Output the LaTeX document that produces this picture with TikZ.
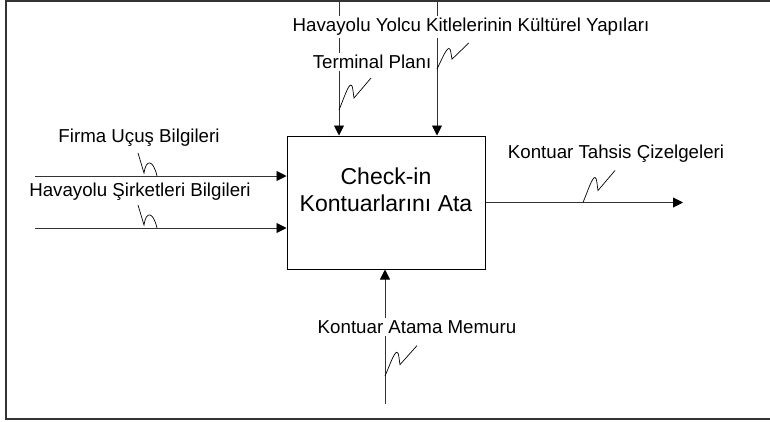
\documentclass[tikz,border=0pt]{standalone}
\usepackage{fontspec}
\setmainfont{Liberation Sans}
\usetikzlibrary{arrows.meta}
\begin{document}
\begin{tikzpicture}[x=1pt,y=-1pt,
  conn/.style={draw=black!80,line width=0.9pt},
  arr/.style={conn,-{Triangle[length=10pt,width=10pt,fill=black,color=black]}},
  lbl/.style={fill=white,inner sep=2pt,font=\fontsize{18.7}{21}\selectfont},
  sqline/.style={draw=black,line width=0.7pt},
  upsq/.pic={\draw[sqline] (0,0) .. controls (5,-12) and (9,-25) .. (12,-25) .. controls (14,-25) and (14,-17) .. (15,-12) -- (32,-32);},
  insq/.pic={\draw[sqline] (-19,-23) -- (-13,-3) .. controls (-11,-17) and (-4,-17) .. (0,0);}
  ]
\useasboundingbox (0,0) rectangle (770,421);
\draw[black!80,line width=1.5pt] (6,0.75) rectangle (775,419);

% activity box
\node[draw,line width=1pt,minimum width=198pt,minimum height=133pt,inner sep=0pt] (box) at (386,202.5) {};
\node[align=center,font=\fontsize{23}{27}\selectfont,inner sep=0pt] (boxtext) at (386,190) {Check-in\\Kontuarlarını Ata};

% end coordinates
\coordinate (in1) at (35,176);
\coordinate (in2) at (35,228);
\coordinate (out) at (683,202.5);
\coordinate (c1) at (339,2);
\coordinate (c2) at (437,2);
\coordinate (m) at (385,404);

% connectors
\draw[arr] (in1) -- (box.west |- in1);
\draw[arr] (in2) -- (box.west |- in2);
\draw[arr] (box.east) -- (out);
\draw[arr] (c1) -- (c1 |- box.north);
\draw[arr] (c2) -- (c2 |- box.north);
\draw[arr] (m) -- (m |- box.south);

% labels
\node[lbl] (lc2) at (471,27) {Havayolu Yolcu Kitlelerinin Kültürel Yapıları};
\node[lbl] (lc1) at (372,62) {Terminal Planı};
\node[lbl] (li1) at (139,138) {Firma Uçuş Bilgileri};
\node[lbl] (li2) at (140,192) {Havayolu Şirketleri Bilgileri};
\node[lbl] (lo) at (616,154) {Kontuar Tahsis Çizelgeleri};
\node[lbl] (lm) at (417,327) {Kontuar Atama Memuru};

% squiggles
\coordinate (s1) at (339,110);
\coordinate (s2) at (437,69);
\coordinate (s3) at (583,202.5);
\coordinate (s4) at (385,376);
\coordinate (s5) at (157,176);
\coordinate (s6) at (157,228);
\pic at (s1) {upsq};
\pic[yscale=0.82] at (s2) {upsq};
\pic at (s3) {upsq};
\pic[yscale=0.95] at (s4) {upsq};
\pic at (s5) {insq};
\pic at (s6) {insq};
\end{tikzpicture}
\end{document}
